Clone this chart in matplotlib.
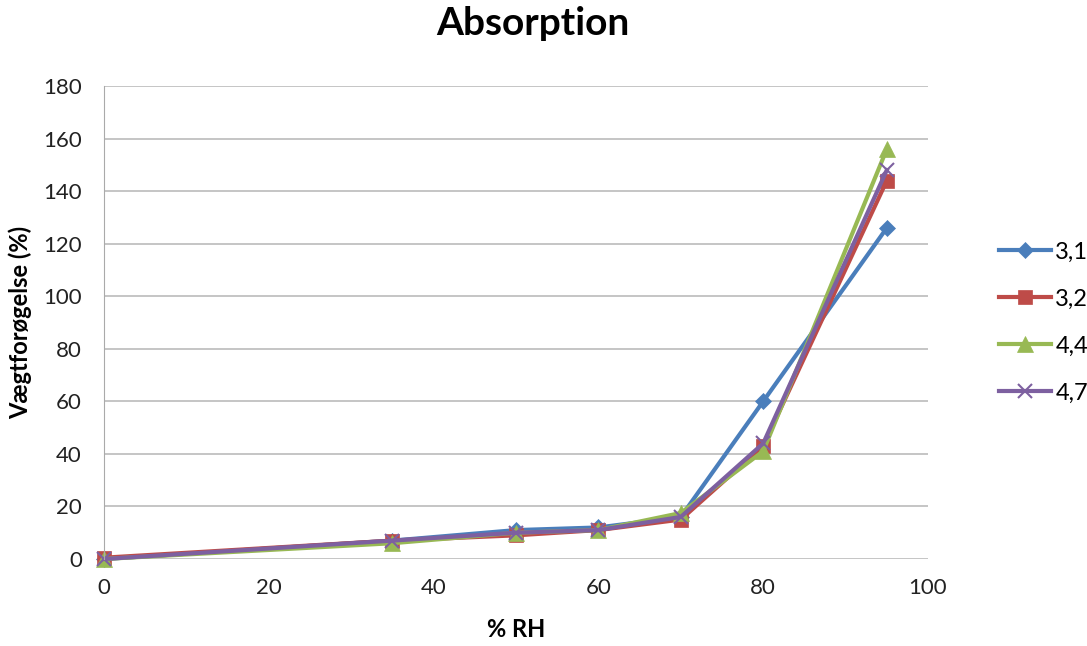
import matplotlib.pyplot as plt

plt.rcParams['font.family'] = ['Lato', 'DejaVu Sans']

# relative humidity steps (%)
rh = [0, 35, 50, 60, 70, 80, 95]

# weight gain (%) per sample
s31 = [0, 7, 11, 12, 16, 60, 126]
s32 = [0.5, 7, 9, 11, 15, 43, 144]
s44 = [0, 6, 10, 11, 17.5, 41, 156]
s47 = [0, 7, 10, 11, 16, 44, 148]

labels = ["3,1", "3,2", "4,4", "4,7"]
colors = ["#4A7EBB", "#BE4B48", "#98B954", "#7D60A0"]
markers = ["D", "s", "^", "x"]
sizes = [8, 10, 11, 10]

fig = plt.figure(figsize=(10.87, 6.46), dpi=100)
ax = fig.add_axes([0.0957, 0.1347, 0.758, 0.732])

for ys, lab, c, m, ms in zip([s31, s32, s44, s47], labels, colors, markers, sizes):
    ax.plot(rh, ys, color=c, lw=3, marker=m, ms=ms, mew=1.5 if m == "x" else 0.5,
            mec=c, label=lab, clip_on=False)

ax.set_xlim(0, 100)
ax.set_ylim(0, 180)
ax.set_xticks(range(0, 101, 20))
ax.set_yticks(range(0, 181, 20))
ax.grid(axis='y', color='#BBBBBB', lw=1.2)
ax.set_axisbelow(True)
for s in ['top', 'right', 'bottom']:
    ax.spines[s].set_visible(False)
ax.spines['left'].set_color('#AAAAAA')
ax.tick_params(axis='x', length=0, pad=14, labelsize=16, labelcolor='#222222')
ax.tick_params(axis='y', length=0, pad=16, labelsize=16, labelcolor='#222222')

ax.set_xlabel("% RH", fontsize=17, fontweight='bold', labelpad=14)
ax.set_ylabel("Vægtforøgelse (%)", fontsize=17, fontweight='bold', labelpad=8)
fig.suptitle("Absorption", fontsize=28, fontweight='bold', x=0.49, y=0.99)

ax.legend(loc='center left', bbox_to_anchor=(1.06, 0.5), frameon=False,
          fontsize=17, handlelength=2.2, labelspacing=1.1, handletextpad=0.2)

fig.savefig("out.png", dpi=100)
